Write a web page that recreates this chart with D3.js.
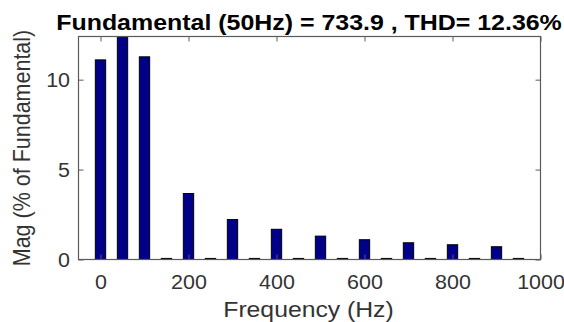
<!DOCTYPE html>
<html>
<head>
<meta charset="utf-8">
<script src="https://cdn.jsdelivr.net/npm/d3@7/dist/d3.min.js"></script>
<style>
  html, body { margin: 0; padding: 0; background: #fff; }
  svg { display: block; font-family: "Liberation Sans", Arial, sans-serif; }
</style>
</head>
<body>
<svg id="chart" width="564" height="322"></svg>
<script>
// Harmonic spectrum, magnitudes in % of the fundamental
const frequencies = [0, 50, 100, 150, 200, 250, 300, 350, 400, 450, 500, 550, 600, 650, 700, 750, 800, 850, 900, 950];
const magnitudes  = [11.1, 100, 11.27, 0.06, 3.67, 0.06, 2.22, 0.06, 1.68, 0.06, 1.3, 0.06, 1.1, 0.06, 0.93, 0.06, 0.82, 0.06, 0.71, 0.06];
const xTicks = [0, 200, 400, 600, 800, 1000];
const yTicks = [0, 5, 10];
const titleText = "Fundamental (50Hz) = 733.9 , THD= 12.36%";
const xLabel = "Frequency (Hz)";
const yLabel = "Mag (% of Fundamental)";
const barWidthHz = 23.5;

const svg = d3.select("#chart");
const box = { left: 78.5, right: 540.5, top: 36.5, bottom: 259.5 };
const stretch = 1.1;   // glyphs are drawn slightly wide

const x = d3.scaleLinear().domain([-50, 1000]).range([box.left, box.right]);
const y = d3.scaleLinear().domain([0, 12.4]).range([box.bottom, box.top]);

const axisColor = "#5a5a5a";
const textColor = "#333333";

svg.append("defs").append("clipPath").attr("id", "plotClip")
  .append("rect")
  .attr("x", box.left).attr("y", box.top)
  .attr("width", box.right - box.left).attr("height", box.bottom - box.top);

// bars
const bw = x(barWidthHz) - x(0);
svg.append("g").attr("clip-path", "url(#plotClip)")
  .selectAll("rect").data(frequencies).join("rect")
  .attr("x", (d) => x(d) - bw / 2)
  .attr("y", (d, i) => y(magnitudes[i]))
  .attr("width", bw)
  .attr("height", (d, i) => y(0) - y(magnitudes[i]))
  .attr("fill", "#000088")
  .attr("stroke", "#000")
  .attr("stroke-width", 1);

// axes: ticks point inward, mirrored on top and right
const tickLen = 5;
const fmt = d3.format("d");
const bottomAxis = d3.axisBottom(x).tickValues(xTicks).tickFormat(fmt).tickSizeInner(-tickLen).tickSizeOuter(0).tickPadding(0);
const topAxis = d3.axisTop(x).tickValues(xTicks).tickSizeInner(-tickLen).tickSizeOuter(0).tickFormat("");
const leftAxis = d3.axisLeft(y).tickValues(yTicks).tickFormat(fmt).tickSizeInner(-tickLen).tickSizeOuter(0).tickPadding(0);
const rightAxis = d3.axisRight(y).tickValues(yTicks).tickSizeInner(-tickLen).tickSizeOuter(0).tickFormat("");

function styleAxis(g) {
  g.select(".domain").remove();
  g.selectAll(".tick line").attr("stroke", axisColor);
  g.selectAll(".tick text").attr("fill", textColor).style("font-size", "19.5px")
    .style("font-family", "'Liberation Sans', Arial, sans-serif");
}

svg.append("g").attr("transform", `translate(0,${box.bottom})`).call(bottomAxis).call(styleAxis)
  .selectAll(".tick text")
  .attr("y", 29.5).attr("dy", null)
  .attr("transform", `scale(${stretch},1)`);
svg.append("g").attr("transform", `translate(0,${box.top})`).call(topAxis).call(styleAxis);
svg.append("g").attr("transform", `translate(${box.left},0)`).call(leftAxis).call(styleAxis)
  .selectAll(".tick text")
  .attr("x", -8.5 / stretch).attr("dy", "0.36em")
  .attr("transform", `scale(${stretch},1)`);
svg.append("g").attr("transform", `translate(${box.right},0)`).call(rightAxis).call(styleAxis);

// axes box
svg.append("rect")
  .attr("x", box.left).attr("y", box.top)
  .attr("width", box.right - box.left).attr("height", box.bottom - box.top)
  .attr("fill", "none").attr("stroke", axisColor).attr("stroke-width", 1.2);

// title, stretched across the top
const cx = (box.left + box.right) / 2;
const title = svg.append("text")
  .attr("text-anchor", "middle")
  .attr("fill", "#000")
  .style("font-weight", "bold").style("font-size", "21.5px")
  .text(titleText);
const titleScale = 506 / title.node().getComputedTextLength();
title.attr("transform", `translate(${cx - 0.5},30) scale(${titleScale},1)`);

// axis labels
svg.append("text")
  .attr("transform", `translate(${cx - 1},316.5) scale(${stretch},1)`)
  .attr("text-anchor", "middle")
  .attr("fill", textColor)
  .style("font-size", "22.5px")
  .text(xLabel);

svg.append("text")
  .attr("transform", `translate(29.5,${(box.top + box.bottom) / 2}) rotate(-90) scale(1,${stretch})`)
  .attr("text-anchor", "middle")
  .attr("fill", textColor)
  .style("font-size", "21.5px")
  .text(yLabel);
</script>
</body>
</html>
